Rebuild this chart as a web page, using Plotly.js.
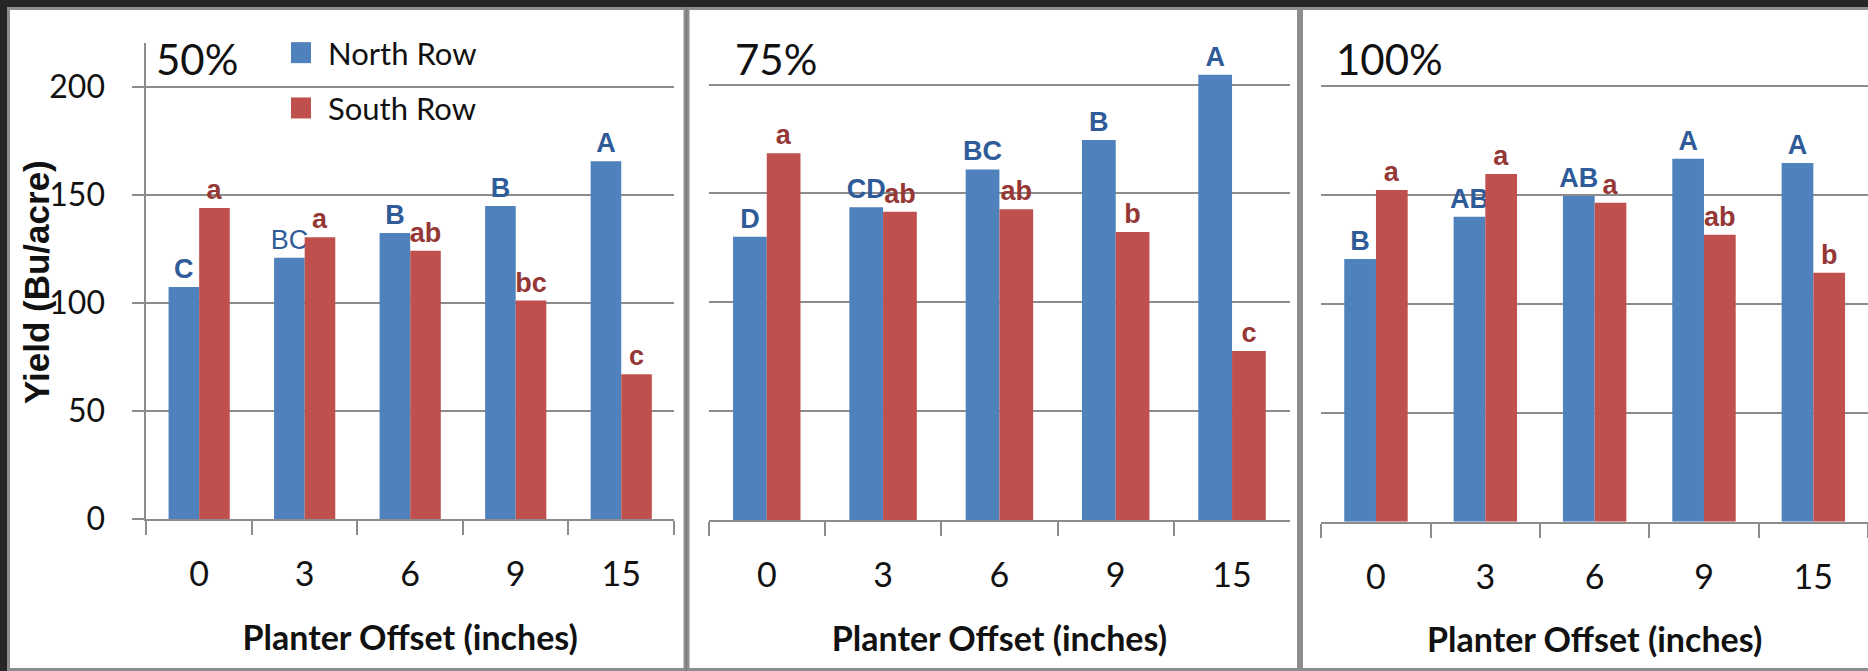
<!DOCTYPE html>
<html>
<head>
<meta charset="utf-8">
<script src="https://cdn.plot.ly/plotly-3.0.1.min.js"></script>
<style>
  html, body { margin: 0; padding: 0; background: #262626; overflow: hidden; }
  #chart { width: 1868px; height: 671px; }
</style>
</head>
<body>
<div id="chart"></div>
<script>
// ---- data ----
const categories = ['0', '3', '6', '9', '15'];
const seriesNames = ['North Row', 'South Row'];
const panelLabels = ['50%', '75%', '100%'];
const yTickVals = [0, 50, 100, 150, 200];
const xTitle = 'Planter Offset (inches)';
const yTitle = 'Yield (Bu/acre)';

const north50 = [107.3, 120.8, 132.3, 144.7, 165.4];
const south50 = [143.8, 130.3, 124.1, 101.0, 66.9];
const north75 = [130.1, 143.6, 161.0, 174.5, 204.5];
const south75 = [168.4, 141.6, 142.7, 132.3, 77.6];
const north100 = [120.6, 140.0, 149.5, 166.6, 164.7];
const south100 = [152.3, 159.6, 146.4, 131.7, 114.3];

const northLetters50 = ['C', 'BC', 'B', 'B', 'A'];
const southLetters50 = ['a', 'a', 'ab', 'bc', 'c'];
const northLetters75 = ['D', 'CD', 'BC', 'B', 'A'];
const southLetters75 = ['a', 'ab', 'ab', 'b', 'c'];
const northLetters100 = ['B', 'AB', 'AB', 'A', 'A'];
const southLetters100 = ['a', 'a', 'a', 'ab', 'b'];

// ---- styling ----
const W = 1868, H = 671;
const fx = p => p / W;
const fy = p => 1 - p / H;
const BLUE = '#4F81BD', RED = '#C0504D';
const BLUE_TXT = '#2F5C99', RED_TXT = '#953735';
const GRID = '#8c8c8c';

const panels = [
  {n: north50, s: south50, nl: northLetters50, sl: southLetters50, x: 'x', y: 'y'},
  {n: north75, s: south75, nl: northLetters75, sl: southLetters75, x: 'x2', y: 'y2'},
  {n: north100, s: south100, nl: northLetters100, sl: southLetters100, x: 'x3', y: 'y3'}
];

const traces = [];
panels.forEach((p, i) => {
  const nWeights = p.nl.map((t, j) => (i === 0 && j === 1) ? 'normal' : 'bold');
  traces.push({
    type: 'bar', name: seriesNames[0], legendgroup: 'n', showlegend: i === 0,
    x: categories, y: p.n, xaxis: p.x, yaxis: p.y,
    marker: {color: BLUE, line: {width: 0}},
    text: p.nl, textposition: 'outside', cliponaxis: false, constraintext: 'none',
    textfont: {family: 'Liberation Sans, Arial, sans-serif', size: 27, color: BLUE_TXT, weight: nWeights},
    hoverinfo: 'none'
  });
  traces.push({
    type: 'bar', name: seriesNames[1], legendgroup: 's', showlegend: i === 0,
    x: categories, y: p.s, xaxis: p.x, yaxis: p.y,
    marker: {color: RED, line: {width: 0}},
    text: p.sl, textposition: 'outside', cliponaxis: false, constraintext: 'none',
    textfont: {family: 'Liberation Sans, Arial, sans-serif', size: 27, color: RED_TXT, weight: 'bold'},
    hoverinfo: 'none'
  });
});

const xDomains = [[146.4, 674], [708.6, 1290.2], [1321.3, 1868]];
const yDomains = [[519, 43.25], [520, 41], [521.7, 42.4]];

function xAxis(i) {
  return {
    domain: [fx(xDomains[i][0]), fx(xDomains[i][1])],
    anchor: i === 0 ? 'y' : 'y' + (i + 1),
    type: 'category', categoryorder: 'array', categoryarray: categories,
    showline: true, linecolor: GRID, linewidth: 2,
    ticks: 'outside', tickson: 'boundaries', ticklen: 14, tickwidth: 2, tickcolor: GRID,
    tickfont: {family: 'Lato', size: 34, color: '#111'},
    ticklabelstandoff: 24,
    showgrid: false, zeroline: false, fixedrange: true,
    title: {text: xTitle, font: {family: 'Lato', size: 34, weight: 'bold', color: '#111'}, standoff: 34}
  };
}
function yAxis(i) {
  const base = {
    domain: [fy(yDomains[i][0]), fy(yDomains[i][1])],
    anchor: i === 0 ? 'x' : 'x' + (i + 1),
    range: [0, 220], tickvals: yTickVals,
    showgrid: true, gridcolor: GRID, gridwidth: 2, zeroline: false, fixedrange: true
  };
  if (i === 0) {
    Object.assign(base, {
      showline: true, linecolor: GRID, linewidth: 2,
      ticks: 'outside', ticklen: 12, tickwidth: 2, tickcolor: GRID,
      tickfont: {family: 'Lato', size: 32, color: '#111'},
      ticklabelstandoff: 21
    });
  } else {
    Object.assign(base, {showline: false, ticks: '', showticklabels: false});
  }
  return base;
}

const panelRects = [[8.5, 685], [688, 1298.5], [1301.5, 1885]];
const shapes = panelRects.map(r => ({
  type: 'rect', xref: 'paper', yref: 'paper', layer: 'below',
  x0: fx(r[0]), x1: fx(r[1]), y0: fy(669.5), y1: fy(8.5),
  fillcolor: '#ffffff', line: {color: '#8d8d8d', width: 3}
}));

const labelX = [154, 733, 1334];
const annotations = panelLabels.map((t, i) => ({
  xref: 'paper', yref: 'paper', x: fx(labelX[i]), y: fy(59),
  xanchor: 'left', yanchor: 'middle', showarrow: false,
  text: t, font: {family: 'Lato', size: 42, color: '#111'}
}));
// y-axis title of the first panel
annotations.push({
  xref: 'paper', yref: 'paper', x: fx(37), y: fy(282),
  xanchor: 'center', yanchor: 'middle', showarrow: false, textangle: -90,
  text: yTitle, font: {family: 'Liberation Sans, Arial, sans-serif', size: 35, weight: 'bold', color: '#111'}
});

const layout = {
  width: W, height: H,
  margin: {l: 0, r: 0, t: 0, b: 0, pad: 0},
  paper_bgcolor: '#262626', plot_bgcolor: 'rgba(0,0,0,0)',
  font: {family: 'Lato', color: '#111'},
  barmode: 'group', bargap: 0.42, bargroupgap: 0,
  showlegend: true,
  legend: {
    x: fx(288), xanchor: 'left', y: fy(26), yanchor: 'top',
    bgcolor: 'rgba(0,0,0,0)', borderwidth: 0,
    font: {family: 'Lato', size: 31, color: '#111'},
    tracegroupgap: 12, itemclick: false, itemdoubleclick: false
  },
  shapes: shapes,
  annotations: annotations,
  xaxis: xAxis(0), xaxis2: xAxis(1), xaxis3: xAxis(2),
  yaxis: yAxis(0), yaxis2: yAxis(1), yaxis3: yAxis(2)
};

Plotly.newPlot('chart', traces, layout, {staticPlot: true, displayModeBar: false}).then(gd => {
  // larger square legend swatches, as in the reference
  gd.querySelectorAll('.legend .legendpoints path').forEach(p => {
    p.removeAttribute('transform');
    p.setAttribute('d', 'M23,10.5H3V-10.5H23Z');
  });
});
</script>
</body>
</html>
